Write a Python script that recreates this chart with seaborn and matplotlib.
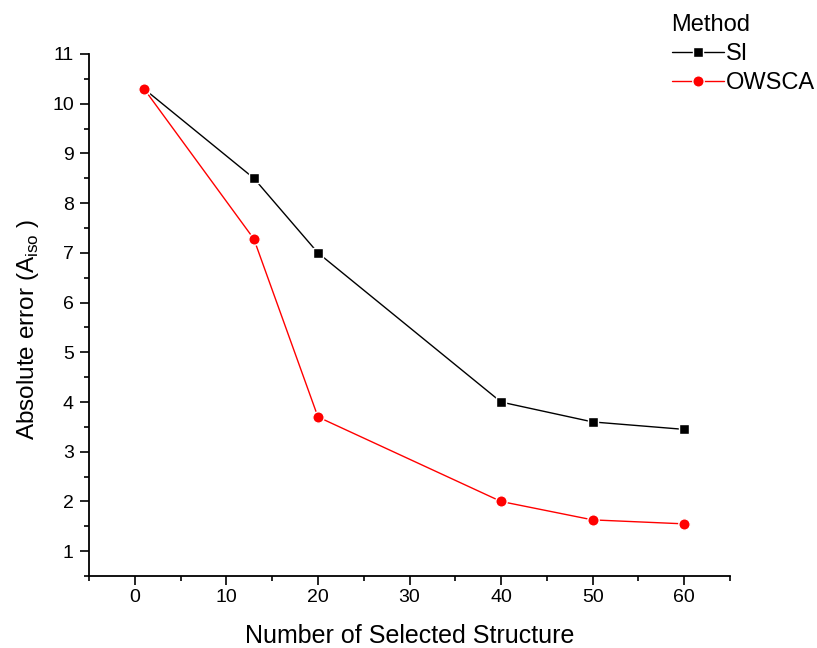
import matplotlib
matplotlib.use("Agg")
import matplotlib.pyplot as plt
from matplotlib.ticker import MultipleLocator
import pandas as pd
import seaborn as sns

# Absolute error versus number of selected structures for two selection methods
structures = [1, 13, 20, 40, 50, 60]
si_error = [10.3, 8.5, 7.0, 4.0, 3.6, 3.45]
owsca_error = [10.3, 7.28, 3.7, 2.0, 1.63, 1.55]
methods = ["SI", "OWSCA"]

df = pd.DataFrame({
    "Number of Selected Structure": structures * 2,
    "error": si_error + owsca_error,
    "Method": [methods[0]] * len(structures) + [methods[1]] * len(structures),
})

sns.set_theme(style="ticks", rc={
    "text.color": "black", "axes.labelcolor": "black",
    "xtick.color": "black", "ytick.color": "black",
    "axes.edgecolor": "black",
})
plt.rcParams["font.family"] = ["Liberation Sans", "DejaVu Sans"]

fig = plt.figure(figsize=(8.17, 6.48), dpi=100)
ax = fig.add_axes([0.109, 0.111, 0.7845, 0.8057])

marker_sizes = {"s": 7.6, "o": 8.2}

sns.lineplot(
    data=df, x="Number of Selected Structure", y="error",
    hue="Method", style="Method",
    palette={"SI": "black", "OWSCA": "#ff0000"},
    markers={"SI": "s", "OWSCA": "o"}, dashes=False,
    linewidth=1.0, markeredgewidth=1.0, markeredgecolor="white", ax=ax,
)
for line in ax.get_lines():
    if line.get_marker() in marker_sizes:
        line.set_markersize(marker_sizes[line.get_marker()])

ax.set_xlim(-5, 65)
ax.set_ylim(0.5, 11)
ax.xaxis.set_major_locator(MultipleLocator(10))
ax.xaxis.set_minor_locator(MultipleLocator(5))
ax.yaxis.set_major_locator(MultipleLocator(1))
ax.yaxis.set_minor_locator(MultipleLocator(0.5))
ax.tick_params(which="major", direction="out", length=6.5, width=1.2,
               labelsize=14)
ax.tick_params(axis="y", which="major", pad=4.5)
ax.tick_params(axis="x", which="major", pad=3)
ax.tick_params(which="minor", direction="out", length=3.5, width=1.2)
for side in ["top", "right"]:
    ax.spines[side].set_visible(False)
for side in ["left", "bottom"]:
    ax.spines[side].set_linewidth(1.3)

ax.set_xlabel("Number of Selected Structure", fontsize=18, labelpad=12.5)
ax.set_ylabel("Absolute error (A$_{\\mathregular{iso}}$ )", fontsize=17.5)
ax.yaxis.set_label_coords(-0.075, 0.472)

leg = ax.legend(
    title="Method", loc="upper left", bbox_to_anchor=(0.822, 0.978),
    bbox_transform=fig.transFigure, frameon=False, fontsize=17,
    title_fontsize=17, handlelength=2.2, handletextpad=0.1,
    labelspacing=0.29, borderpad=0.0, borderaxespad=0.0,
)
leg._legend_box.align = "left"
for h in leg.legend_handles:
    h.set_markeredgecolor("white")
    h.set_markeredgewidth(1.0)
    if h.get_marker() in marker_sizes:
        h.set_markersize(marker_sizes[h.get_marker()])

fig.savefig("out.png", dpi=100)
